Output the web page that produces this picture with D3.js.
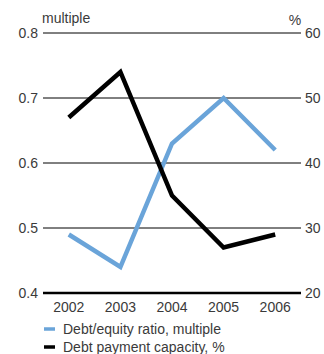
<!DOCTYPE html>
<html><head><meta charset="utf-8">
<script src="https://cdn.jsdelivr.net/npm/d3@7"></script>
<style>body{margin:0;background:#fff;}svg{display:block;font-family:"Liberation Sans",Arial,sans-serif;}</style>
</head><body>
<svg id="c" width="324" height="354"></svg>
<script>
const years = ["2002","2003","2004","2005","2006"];
const debtEquity = [0.49, 0.44, 0.63, 0.70, 0.62];
const paymentCapacity = [47, 54, 35, 27, 29];
const leftTicks = [0.4, 0.5, 0.6, 0.7, 0.8];
const rightTicks = [20, 30, 40, 50, 60];
const legendLabels = ["Debt/equity ratio, multiple", "Debt payment capacity, %"];

const svg = d3.select("#c");
const x0 = 43, x1 = 301, yTop = 33, yBot = 293;
const x = d3.scaleBand().domain(years).range([x0, x1]);
const yL = d3.scaleLinear().domain([0.4, 0.8]).range([yBot, yTop]);
const yR = d3.scaleLinear().domain([20, 60]).range([yBot, yTop]);
const txt = "#3a3a3a";

svg.append("g").selectAll("line").data(leftTicks).join("line")
  .attr("x1", x0).attr("x2", x1)
  .attr("y1", d => yL(d)).attr("y2", d => yL(d))
  .attr("stroke", "#000").attr("stroke-width", d => d === 0.4 ? 2.5 : 1);

svg.append("g").selectAll("text").data(leftTicks).join("text")
  .attr("x", 38).attr("y", d => yL(d)).attr("dy", "0.35em")
  .attr("text-anchor", "end").attr("font-size", 14).attr("fill", txt)
  .text(d => d3.format(".1f")(d));
svg.append("g").selectAll("text").data(rightTicks).join("text")
  .attr("x", 305).attr("y", d => yR(d)).attr("dy", "0.35em")
  .attr("text-anchor", "start").attr("font-size", 14).attr("fill", txt)
  .text(d => d);
svg.append("g").selectAll("text").data(years).join("text")
  .attr("x", d => x(d) + x.bandwidth()/2).attr("y", 312)
  .attr("text-anchor", "middle").attr("font-size", 14).attr("fill", txt)
  .text(d => d);

svg.append("text").attr("x", 42).attr("y", 23).attr("font-size", 14).attr("fill", txt).text("multiple");
svg.append("text").attr("x", 295).attr("y", 25).attr("text-anchor", "middle").attr("font-size", 14).attr("fill", txt).text("%");

const cx = d => x(d) + x.bandwidth()/2;
svg.append("path").datum(years.map((d,i) => [cx(d), yL(debtEquity[i])]))
  .attr("d", d3.line()).attr("fill", "none").attr("stroke", "#6aa4d9").attr("stroke-width", 4.5);
svg.append("path").datum(years.map((d,i) => [cx(d), yR(paymentCapacity[i])]))
  .attr("d", d3.line()).attr("fill", "none").attr("stroke", "#000").attr("stroke-width", 4.5);

const colors = ["#6aa4d9", "#000"];
const lg = svg.append("g").selectAll("g").data(legendLabels).join("g")
  .attr("transform", (d,i) => `translate(43,${329 + i*18})`);
lg.append("line").attr("x1", 1).attr("x2", 12).attr("y1", 0).attr("y2", 0)
  .attr("stroke", (d,i) => colors[i]).attr("stroke-width", 3.5);
lg.append("text").attr("x", 20).attr("y", 0).attr("dy", "0.35em")
  .attr("font-size", 14).attr("fill", txt).text(d => d);
</script>
</body></html>
